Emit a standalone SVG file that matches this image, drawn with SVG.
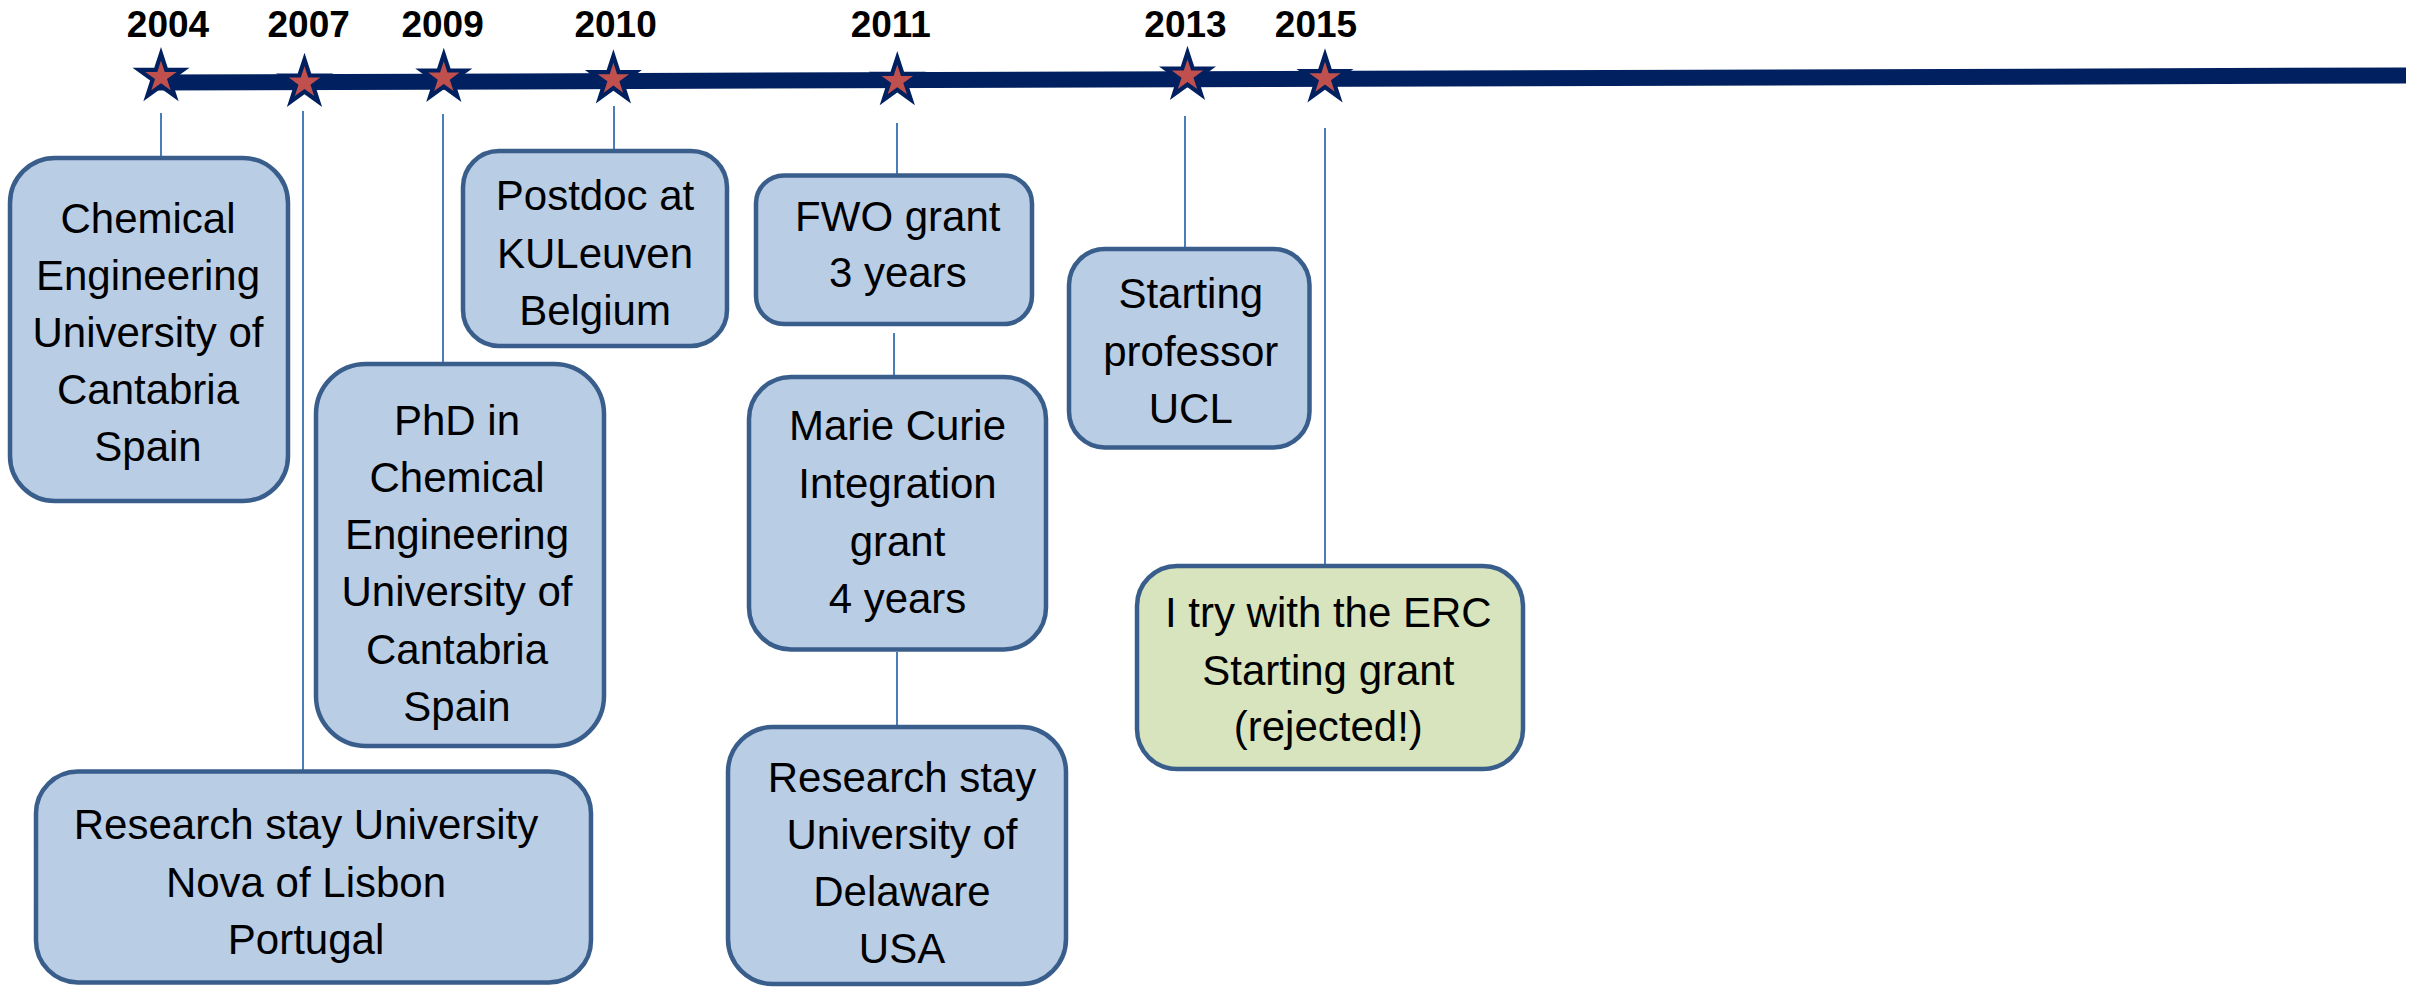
<svg xmlns="http://www.w3.org/2000/svg" xmlns:xlink="http://www.w3.org/1999/xlink" width="2419" height="987" viewBox="0 0 2419 987">
<style>
  .box { fill: #B9CDE5; stroke: #3A5E8C; stroke-width: 4.5; }
  .green { fill: #D7E4BD; }
  .lbl { font-family: "Liberation Sans", Arial, sans-serif; font-size: 42px; fill: #000; text-anchor: middle; }
  .year { font-family: "Liberation Sans", Arial, sans-serif; font-size: 37px; font-weight: bold; fill: #000; text-anchor: middle; }
  .conn { stroke: #4A7EBB; stroke-width: 2; fill: none; }
</style>
<defs>
  <g id="star">
    <polygon fill="#002060" points="0,-30 6.74,-9.27 28.53,-9.27 10.90,3.54 17.63,24.27 0,11.46 -17.63,24.27 -10.90,3.54 -28.53,-9.27 -6.74,-9.27"/>
    <polygon fill="#C0504D" points="0,-16.5 3.70,-5.10 15.69,-5.10 5.99,1.95 9.70,13.35 0,6.30 -9.70,13.35 -5.99,1.95 -15.69,-5.10 -3.70,-5.10"/>
  </g>
</defs>
<rect width="2419" height="987" fill="#FFFFFF"/>

<g id="connectors">
  <line class="conn" x1="161" y1="113" x2="161" y2="157"/>
  <line class="conn" x1="303" y1="111" x2="303" y2="770"/>
  <line class="conn" x1="443" y1="114" x2="443" y2="362"/>
  <line class="conn" x1="614" y1="106" x2="614" y2="150"/>
  <line class="conn" x1="897" y1="123" x2="897" y2="175"/>
  <line class="conn" x1="894" y1="333" x2="894" y2="376"/>
  <line class="conn" x1="897" y1="652" x2="897" y2="726"/>
  <line class="conn" x1="1185" y1="116" x2="1185" y2="248"/>
  <line class="conn" x1="1325" y1="128" x2="1325" y2="565"/>
</g>

<g id="timeline">
  <line x1="150" y1="82.5" x2="2406" y2="75.5" stroke="#002060" stroke-width="16"/>
</g>

<g id="y2004"><use xlink:href="#star" x="161" y="77"/><text class="year" x="168" y="37">2004</text></g>
<g id="y2007"><use xlink:href="#star" x="304.5" y="82.7"/><text class="year" x="308.7" y="37">2007</text></g>
<g id="y2009"><use xlink:href="#star" x="443.8" y="77.7"/><text class="year" x="442.6" y="37">2009</text></g>
<g id="y2010"><use xlink:href="#star" x="613.4" y="79.3"/><text class="year" x="615.6" y="37">2010</text></g>
<g id="y2011"><use xlink:href="#star" x="897.3" y="81"/><text class="year" x="890.8" y="37">2011</text></g>
<g id="y2013"><use xlink:href="#star" x="1187.5" y="75.7"/><text class="year" x="1185.5" y="37">2013</text></g>
<g id="y2015"><use xlink:href="#star" x="1325" y="78.3"/><text class="year" x="1316" y="37">2015</text></g>

<g id="n-chemeng">
  <rect class="box" x="10" y="158" width="278" height="343" rx="45"/>
  <text class="lbl"><tspan x="148" y="232.5">Chemical</tspan><tspan x="148" y="289.7">Engineering</tspan><tspan x="148" y="346.9">University of</tspan><tspan x="148" y="404.1">Cantabria</tspan><tspan x="148" y="461.3">Spain</tspan></text>
</g>

<g id="n-phd">
  <rect class="box" x="316" y="364" width="288" height="382" rx="50"/>
  <text class="lbl"><tspan x="457" y="435">PhD in</tspan><tspan x="457" y="492">Chemical</tspan><tspan x="457" y="549">Engineering</tspan><tspan x="457" y="606">University of</tspan><tspan x="457" y="663.5">Cantabria</tspan><tspan x="457" y="721">Spain</tspan></text>
</g>

<g id="n-lisbon">
  <rect class="box" x="36" y="771.5" width="555" height="211" rx="42"/>
  <text class="lbl"><tspan x="306" y="839">Research stay University</tspan><tspan x="306" y="896.7">Nova of Lisbon</tspan><tspan x="306" y="954.4">Portugal</tspan></text>
</g>

<g id="n-postdoc">
  <rect class="box" x="463" y="151" width="264" height="195" rx="36"/>
  <text class="lbl"><tspan x="595" y="210">Postdoc at</tspan><tspan x="595" y="267.7">KULeuven</tspan><tspan x="595" y="325">Belgium</tspan></text>
</g>

<g id="n-fwo">
  <rect class="box" x="756" y="175.5" width="276" height="148.5" rx="28"/>
  <text class="lbl"><tspan x="897.8" y="230.7">FWO grant</tspan><tspan x="897.8" y="286.7">3 years</tspan></text>
</g>

<g id="n-mariecurie">
  <rect class="box" x="749" y="377" width="297" height="272.5" rx="42"/>
  <text class="lbl"><tspan x="897.5" y="440">Marie Curie</tspan><tspan x="897.5" y="498">Integration</tspan><tspan x="897.5" y="555.5">grant</tspan><tspan x="897.5" y="613.3">4 years</tspan></text>
</g>

<g id="n-delaware">
  <rect class="box" x="728" y="727" width="338" height="257" rx="45"/>
  <text class="lbl"><tspan x="902" y="791.7">Research stay</tspan><tspan x="902" y="849.3">University of</tspan><tspan x="902" y="906">Delaware</tspan><tspan x="902" y="963.3">USA</tspan></text>
</g>

<g id="n-ucl">
  <rect class="box" x="1069" y="249" width="240.5" height="198.5" rx="36"/>
  <text class="lbl"><tspan x="1190.8" y="308">Starting</tspan><tspan x="1190.8" y="365.5">professor</tspan><tspan x="1190.8" y="423">UCL</tspan></text>
</g>

<g id="n-erc">
  <rect class="box green" x="1137" y="566" width="386" height="203" rx="40"/>
  <text class="lbl"><tspan x="1328.3" y="627">I try with the ERC</tspan><tspan x="1328.3" y="684.5">Starting grant</tspan><tspan x="1328.3" y="741">(rejected!)</tspan></text>
</g>
</svg>
